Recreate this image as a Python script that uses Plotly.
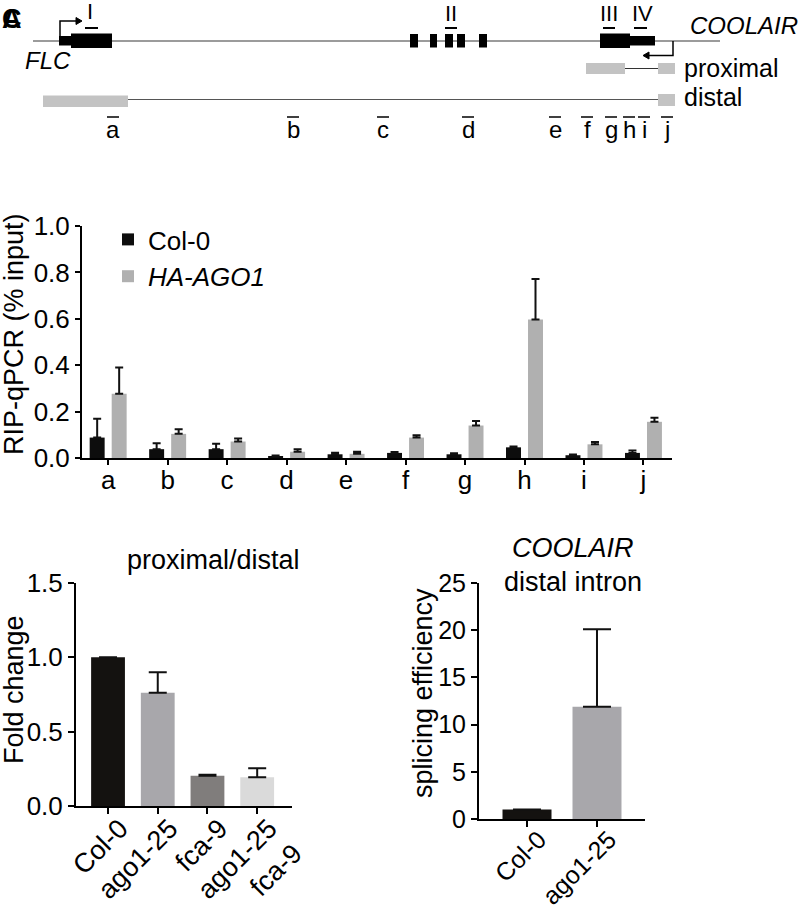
import plotly.graph_objects as go

# ---------------- data ----------------
rip_categories = ["a", "b", "c", "d", "e", "f", "g", "h", "i", "j"]
rip_col0 = [0.088, 0.038, 0.038, 0.008, 0.016, 0.022, 0.016, 0.046, 0.012, 0.022]
rip_col0_err = [0.081, 0.026, 0.023, 0.003, 0.007, 0.004, 0.004, 0.004, 0.003, 0.010]
rip_ha = [0.277, 0.104, 0.071, 0.027, 0.018, 0.088, 0.140, 0.597, 0.059, 0.156]
rip_ha_err = [0.113, 0.020, 0.013, 0.011, 0.009, 0.010, 0.019, 0.175, 0.010, 0.018]

fold_categories = ["Col-0", "ago1-25", "fca-9", "ago1-25<br>fca-9"]
fold_values = [1.0, 0.762, 0.204, 0.193]
fold_err = [0.0, 0.138, 0.006, 0.061]

splice_categories = ["Col-0", "ago1-25"]
splice_values = [1.0, 11.9]
splice_err = [0.0, 8.2]

# gene-model schematic (in schematic units)
primer_labels = ["a", "b", "c", "d", "e", "f", "g", "h", "i", "j"]
primer_pos = [113, 293, 383, 468, 555, 587, 611, 629, 644, 667]
exon_labels = ["I", "II", "III", "IV"]
exon_label_pos = [90, 451, 609, 642]

FONT = "Liberation Sans, Arial, sans-serif"
H = 918.0
W = 800.0


def py(p):
    return 1 - p / H


def px(p):
    return p / W


fig = go.Figure()

# ---------------- middle chart ----------------
fig.add_trace(go.Bar(
    x=rip_categories, y=rip_col0, name="Col-0", marker_color="#0d0d0d",
    marker_line_width=0,
    error_y=dict(type="data", array=rip_col0_err, arrayminus=[0] * 10, symmetric=False,
                 color="#111111", thickness=2, width=4),
    xaxis="x", yaxis="y"))
fig.add_trace(go.Bar(
    x=rip_categories, y=rip_ha, name="<i>HA-AGO1</i>", marker_color="#b0b0b0",
    marker_line_width=0,
    error_y=dict(type="data", array=rip_ha_err, arrayminus=[0] * 10, symmetric=False,
                 color="#111111", thickness=2, width=4),
    xaxis="x", yaxis="y"))

# ---------------- bottom left ----------------
fig.add_trace(go.Bar(
    x=fold_categories, y=fold_values, showlegend=False, width=0.68,
    marker_color=["#141210", "#a8a7ab", "#807d7c", "#dadada"], marker_line_width=0,
    error_y=dict(type="data", array=fold_err, arrayminus=[0] * 4, symmetric=False,
                 color="#111111", thickness=2, width=9),
    xaxis="x2", yaxis="y2"))

# ---------------- bottom right ----------------
fig.add_trace(go.Bar(
    x=splice_categories, y=splice_values, showlegend=False, width=0.70,
    marker_color=["#141210", "#a8a7ab"], marker_line_width=0,
    error_y=dict(type="data", array=splice_err, arrayminus=[0] * 2, symmetric=False,
                 color="#111111", thickness=2, width=14),
    xaxis="x3", yaxis="y3"))

# schematic axis
fig.add_trace(go.Scatter(x=[0, 800], y=[0, 140], mode="markers", marker_opacity=0,
                         showlegend=False, hoverinfo="skip", xaxis="x4", yaxis="y4"))


def axis_style(size):
    return dict(showline=True, linecolor="black", linewidth=2, ticks="outside",
                tickcolor="black", tickwidth=2, showgrid=False, zeroline=False,
                automargin=False,
                tickfont=dict(family=FONT, size=size, color="black"))


fig.update_layout(
    template="none",
    width=800, height=918,
    margin=dict(l=0, r=0, t=0, b=0, pad=0, autoexpand=False),
    paper_bgcolor="white", plot_bgcolor="rgba(0,0,0,0)",
    barmode="group", bargap=0.26, bargroupgap=0.32,
    font=dict(family=FONT, color="black"),
    showlegend=True,
    legend=dict(x=px(108), y=py(216), xanchor="left", yanchor="top",
                font=dict(family=FONT, size=26, color="black"),
                bgcolor="rgba(0,0,0,0)", tracegroupgap=0, itemwidth=30),
    xaxis=dict(domain=[px(82), px(672)], range=[-0.44, 9.48], ticklen=5, anchor="y",
               ticklabelstandoff=-7, **axis_style(26)),
    yaxis=dict(domain=[py(458), py(226)], range=[0, 1.0], tickvals=[0, 0.2, 0.4, 0.6, 0.8, 1.0],
               ticktext=["0.0", "0.2", "0.4", "0.6", "0.8", "1.0"], ticklen=5, anchor="x",
               **axis_style(26)),
    xaxis2=dict(domain=[px(76), px(292)], range=[-0.644, 3.70], ticklen=6, tickangle=-45,
                anchor="y2", ticklabelshift=12, ticklabelstandoff=-12, **axis_style(27)),
    yaxis2=dict(domain=[py(806), py(583)], range=[0, 1.5], tickvals=[0, 0.5, 1.0, 1.5],
                ticktext=["0.0", "0.5", "1.0", "1.5"], ticklen=6, anchor="x2", **axis_style(26)),
    xaxis3=dict(domain=[px(479), px(645)], range=[-0.686, 1.686], ticklen=6, tickangle=-45,
                anchor="y3", ticklabelshift=12, ticklabelstandoff=-12, **axis_style(25)),
    yaxis3=dict(domain=[py(819), py(583)], range=[0, 25], tickvals=[0, 5, 10, 15, 20, 25],
                ticklen=6, anchor="x3", **axis_style(25)),
    xaxis4=dict(domain=[0, 1], range=[0, 800], visible=False, fixedrange=True, anchor="y4"),
    yaxis4=dict(domain=[py(140), 1], range=[140, 0], visible=False, fixedrange=True,
                anchor="x4"),
)

# ---------------- schematic shapes ----------------
shapes = []


def rect(x0, x1, y0, y1, color):
    shapes.append(dict(type="rect", xref="x4", yref="y4", x0=x0, x1=x1, y0=y0, y1=y1,
                       fillcolor=color, line=dict(width=0), layer="above"))


def line(x0, y0, x1, y1, color="black", width=1.5):
    shapes.append(dict(type="line", xref="x4", yref="y4", x0=x0, y0=y0, x1=x1, y1=y1,
                       line=dict(color=color, width=width), layer="above"))


def path(d, color="black"):
    shapes.append(dict(type="path", xref="x4", yref="y4", path=d, fillcolor=color,
                       line=dict(color=color, width=1), layer="above"))


# main genomic line
line(33, 41, 720, 41, "#7a7a7a", 1.5)
# FLC exon 1
rect(59, 71, 36, 45.5, "black")
rect(71, 112, 33.5, 48, "black")
# small exons
for a, b in [(410, 418), (430, 437), (445, 453), (457, 465), (479, 487)]:
    rect(a, b, 34, 47.5, "black")
# last exon
rect(600, 630, 33.5, 48, "black")
rect(630, 655, 36, 45.5, "black")
# FLC TSS arrow
shapes.append(dict(type="path", xref="x4", yref="y4", path="M 60 36 L 60 21 L 77 21",
                   line=dict(color="black", width=1.5), layer="above"))
path("M 76 17.5 L 82 21 L 76 24.5 Z")
# COOLAIR TSS arrow
shapes.append(dict(type="path", xref="x4", yref="y4", path="M 673 41 L 673 55.5 L 648 55.5",
                   line=dict(color="black", width=1.5), layer="above"))
path("M 649 52 L 643 55.5 L 649 59 Z")
# proximal transcript
rect(586, 625, 63, 74, "#c3c3c3")
line(625, 68.5, 658, 68.5, "#333333", 1)
rect(658, 675, 63, 74, "#c3c3c3")
# distal transcript
rect(43, 128, 95.5, 107, "#c3c3c3")
line(128, 99.5, 658, 99.5, "#555555", 1)
rect(658, 675, 94, 106, "#c3c3c3")
# probe bars (I-IV)
for a, b in [(85, 98), (445, 457), (603, 615), (634, 647)]:
    line(a, 28, b, 28, "black", 2)
# primer overbars
for xp in primer_pos:
    line(xp - 6, 117, xp + 6, 117, "black", 1.5)

fig.update_layout(shapes=shapes)

# ---------------- annotations ----------------
ann = []


def text(x, y, s, size=20, xanchor="center", yanchor="middle", italic=False):
    if italic:
        s = "<i>" + s + "</i>"
    ann.append(dict(x=x, y=y, xref="x4", yref="y4", text=s,
                    showarrow=False, xanchor=xanchor, yanchor=yanchor,
                    font=dict(family=FONT, size=size, color="black")))


# panel label (overlapping letters)
for s in ["C", "A"]:
    ann.append(dict(x=0, y=py(2), xref="paper", yref="paper", text="<b>" + s + "</b>",
                    showarrow=False, xanchor="left", yanchor="top",
                    font=dict(family=FONT, size=27, color="black")))

for lab, xp in zip(exon_labels, exon_label_pos):
    text(xp, 11 if lab == "I" else 13, lab, size=22)
text(48, 60, "FLC", size=24, italic=True)
text(688, 25, "COOLAIR", size=24, xanchor="left", italic=True)
text(682, 68, "proximal", size=25, xanchor="left")
text(682, 97, "distal", size=25, xanchor="left")
for lab, xp in zip(primer_labels, primer_pos):
    text(xp, 129, lab, size=24)


def ptext(xpix, ypix, s, size, angle=0, italic=False):
    if italic:
        s = "<i>" + s + "</i>"
    ann.append(dict(x=px(xpix), y=py(ypix), xref="paper", yref="paper", text=s,
                    showarrow=False, xanchor="center", yanchor="middle", textangle=angle,
                    font=dict(family=FONT, size=size, color="black")))


ptext(14, 334, "RIP-qPCR (% input)", 27, angle=-90)
ptext(14, 690, "Fold change", 27, angle=-90)
ptext(423, 693, "splicing efficiency", 27, angle=-90)
ptext(213, 560, "proximal/distal", 27)
ptext(573, 548, "COOLAIR", 27, italic=True)
ptext(573, 582, "distal intron", 27)

fig.update_layout(annotations=ann)

fig.write_html("out.html", config={"displayModeBar": False},
               post_script="document.body.style.margin='0px';")
